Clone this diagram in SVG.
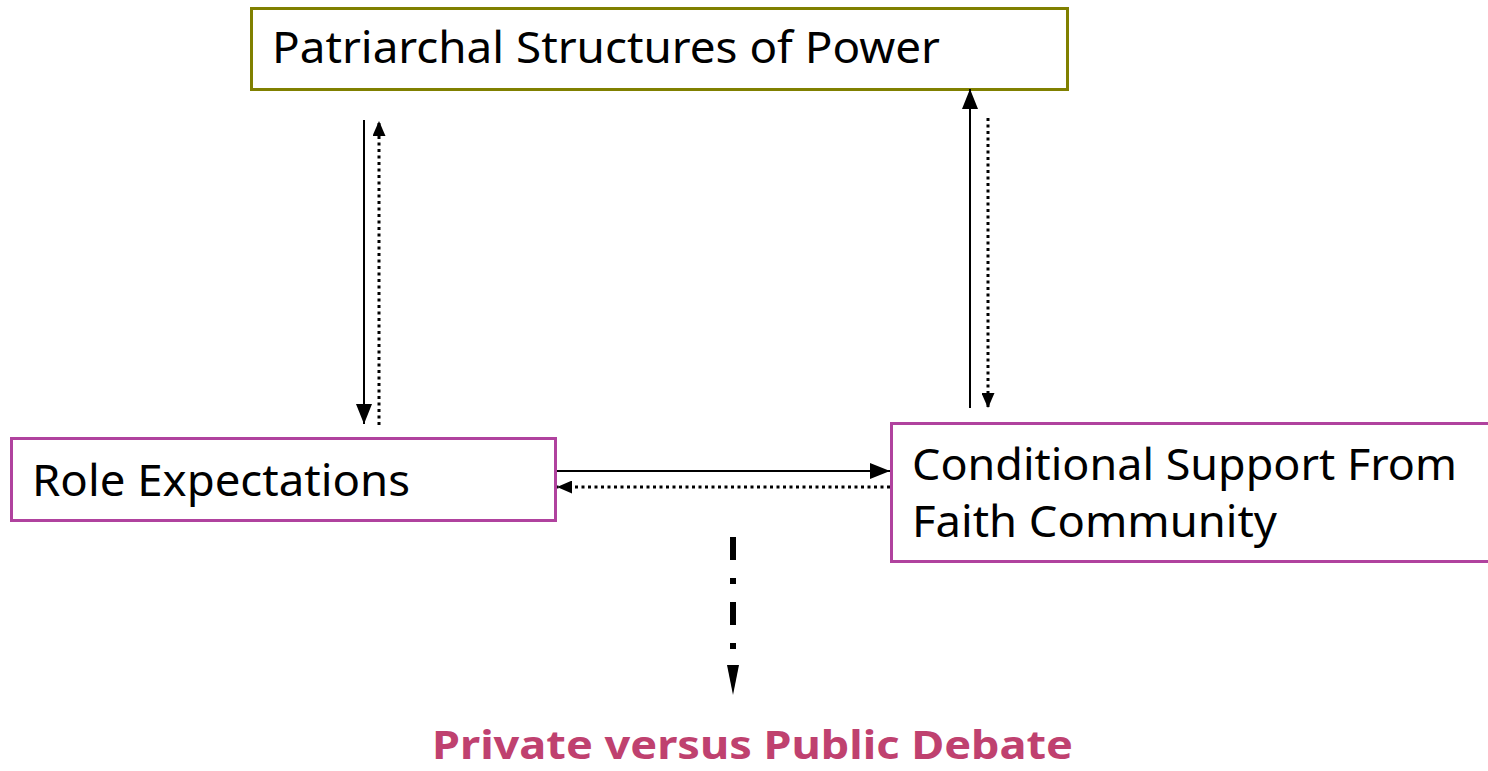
<svg xmlns="http://www.w3.org/2000/svg" width="1488" height="771" viewBox="0 0 1488 771">
<style>
.box{fill:#fff;stroke-width:3}
.olive{stroke:#808000}
.purple{stroke:#B0429E}
.lbl{font-family:"Noto Sans","DejaVu Sans",sans-serif;font-size:43px;fill:#000}
.title{font-family:"Noto Sans","DejaVu Sans",sans-serif;font-size:40px;font-weight:bold;fill:#BF416F}
.solid{stroke:#000;stroke-width:2;fill:none}
.dot{stroke:#000;stroke-width:3;fill:none;stroke-dasharray:3 3.5}
</style>
<defs>
<marker id="ah" markerUnits="userSpaceOnUse" markerWidth="20" markerHeight="16" refX="20" refY="8" orient="auto"><path d="M0,0 L20,8 L0,16 Z" fill="#000"/></marker>
<marker id="ahs" markerUnits="userSpaceOnUse" markerWidth="15" markerHeight="13" refX="15" refY="6.5" orient="auto"><path d="M0,0 L15,6.5 L0,13 Z" fill="#000"/></marker>
</defs>
<g id="node-patriarchal">
<rect class="box olive" x="251.5" y="8.5" width="816" height="81"/>
<text class="lbl" x="272" y="63" textLength="668" lengthAdjust="spacingAndGlyphs">Patriarchal Structures of Power</text>
</g>
<g id="node-role">
<rect class="box purple" x="11.5" y="438.5" width="544" height="82"/>
<text class="lbl" x="32" y="496" textLength="378" lengthAdjust="spacingAndGlyphs">Role Expectations</text>
</g>
<g id="node-conditional">
<rect class="box purple" x="891.5" y="423.5" width="600" height="138"/>
<text class="lbl" x="912" y="480" textLength="545" lengthAdjust="spacingAndGlyphs">Conditional Support From</text>
<text class="lbl" x="912" y="537" textLength="365" lengthAdjust="spacingAndGlyphs">Faith Community</text>
</g>
<g id="node-debate">
<text class="title" x="432" y="759" textLength="641" lengthAdjust="spacingAndGlyphs">Private versus Public Debate</text>
</g>
<g id="connectors">
<line class="solid" x1="364" y1="120" x2="364" y2="424" marker-end="url(#ah)"/>
<line class="dot" x1="379" y1="425" x2="379" y2="121" marker-end="url(#ahs)"/>
<line class="solid" x1="970" y1="408" x2="970" y2="89" marker-end="url(#ah)"/>
<line class="dot" x1="988" y1="118" x2="988" y2="408" marker-end="url(#ahs)"/>
<line class="solid" x1="557" y1="471" x2="890" y2="471" marker-end="url(#ah)"/>
<line class="dot" x1="890" y1="487" x2="557" y2="487" marker-end="url(#ahs)"/>
<line x1="733" y1="537" x2="733" y2="650" stroke="#000" stroke-width="6" stroke-dasharray="23 18 6 18"/>
<path d="M727,665 L739,665 L733,695 Z" fill="#000"/>
</g>
</svg>
